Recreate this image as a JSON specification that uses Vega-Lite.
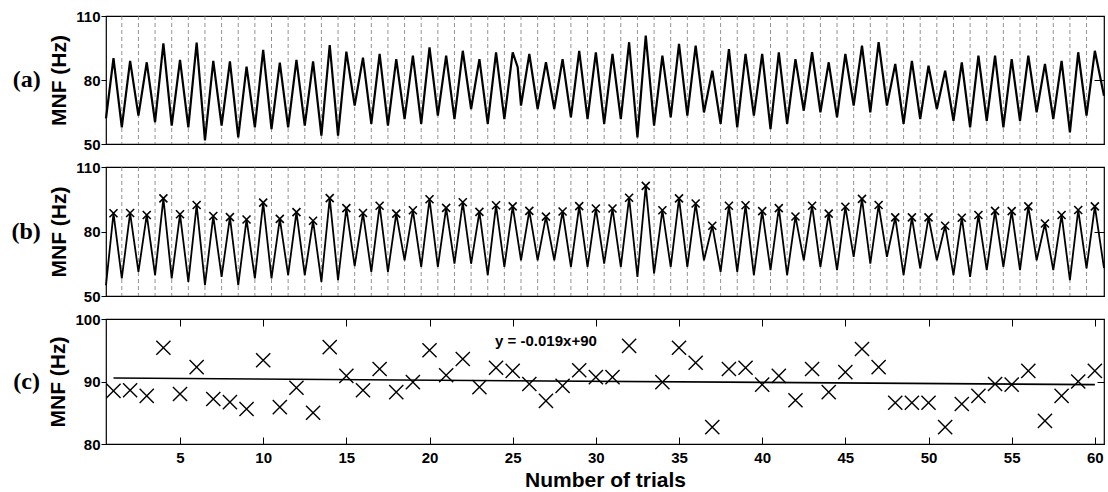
{
  "$schema": "https://vega.github.io/schema/vega-lite/v6.json",
  "background": "white",
  "padding": {"left": 10, "top": 8, "right": 6, "bottom": 4},
  "spacing": 6,
  "config": {
    "view": {"stroke": "#000", "strokeWidth": 1.2},
    "axis": {
      "labelFont": "Liberation Sans", "labelFontSize": 15, "labelFontWeight": "bold", "labelColor": "#000",
      "titleFont": "Liberation Sans", "titleFontSize": 21, "titleFontWeight": "bold", "titleColor": "#000",
      "grid": false, "domain": false, "tickColor": "#000", "tickSize": 5, "labelPadding": 1, "titlePadding": 6
    },
    "title": {"font": "Liberation Serif", "fontSize": 24, "fontWeight": "bold", "color": "#000"}
  },
  "datasets": {
    "g": [{"t":1.5},{"t":2.5},{"t":3.5},{"t":4.5},{"t":5.5},{"t":6.5},{"t":7.5},{"t":8.5},{"t":9.5},{"t":10.5},{"t":11.5},{"t":12.5},{"t":13.5},{"t":14.5},{"t":15.5},{"t":16.5},{"t":17.5},{"t":18.5},{"t":19.5},{"t":20.5},{"t":21.5},{"t":22.5},{"t":23.5},{"t":24.5},{"t":25.5},{"t":26.5},{"t":27.5},{"t":28.5},{"t":29.5},{"t":30.5},{"t":31.5},{"t":32.5},{"t":33.5},{"t":34.5},{"t":35.5},{"t":36.5},{"t":37.5},{"t":38.5},{"t":39.5},{"t":40.5},{"t":41.5},{"t":42.5},{"t":43.5},{"t":44.5},{"t":45.5},{"t":46.5},{"t":47.5},{"t":48.5},{"t":49.5},{"t":50.5},{"t":51.5},{"t":52.5},{"t":53.5},{"t":54.5},{"t":55.5},{"t":56.5},{"t":57.5},{"t":58.5},{"t":59.5}],
    "a": [{"t":0.55,"v":62},{"t":1,"v":90.2},{"t":1.5,"v":57.8},{"t":2,"v":89.0},{"t":2.5,"v":63.3},{"t":3,"v":88.3},{"t":3.5,"v":60.2},{"t":4,"v":97.2},{"t":4.5,"v":58.6},{"t":5,"v":89.4},{"t":5.5,"v":57.8},{"t":6,"v":97.5},{"t":6.5,"v":51.7},{"t":7,"v":89.0},{"t":7.5,"v":58.6},{"t":8,"v":88.7},{"t":8.5,"v":53.1},{"t":9,"v":86.3},{"t":9.5,"v":57.8},{"t":10,"v":94.1},{"t":10.5,"v":57.0},{"t":11,"v":88.1},{"t":11.5,"v":57.8},{"t":12,"v":89.4},{"t":12.5,"v":58.6},{"t":13,"v":88.7},{"t":13.5,"v":53.9},{"t":14,"v":96.4},{"t":14.5,"v":53.9},{"t":15,"v":93.3},{"t":15.5,"v":68.0},{"t":16,"v":90.5},{"t":16.5,"v":59.4},{"t":17,"v":92.2},{"t":17.5,"v":58.6},{"t":18,"v":89.8},{"t":18.5,"v":61.7},{"t":19,"v":91.4},{"t":19.5,"v":59.4},{"t":20,"v":95.3},{"t":20.5,"v":63.3},{"t":21,"v":91.4},{"t":21.5,"v":61.7},{"t":22,"v":93.7},{"t":22.5,"v":66.4},{"t":23,"v":89.8},{"t":23.5,"v":59.4},{"t":24,"v":93.0},{"t":24.5,"v":61.7},{"t":25,"v":93.0},{"t":25.3,"v":86.0},{"t":25.5,"v":68.0},{"t":26,"v":92.2},{"t":26.5,"v":66.4},{"t":27,"v":88.3},{"t":27.5,"v":66.4},{"t":28,"v":89.8},{"t":28.5,"v":62.5},{"t":29,"v":93.7},{"t":29.5,"v":61.7},{"t":30,"v":93.0},{"t":30.5,"v":59.4},{"t":31,"v":92.2},{"t":31.5,"v":61.7},{"t":32,"v":97.7},{"t":32.5,"v":53.1},{"t":33,"v":100.8},{"t":33.5,"v":58.6},{"t":34,"v":91.4},{"t":34.5,"v":62.5},{"t":35,"v":96.9},{"t":35.5,"v":63.3},{"t":36,"v":96.1},{"t":36.5,"v":64.8},{"t":37,"v":84.4},{"t":37.5,"v":59.4},{"t":38,"v":94.5},{"t":38.5,"v":57.8},{"t":39,"v":92.2},{"t":39.5,"v":63.3},{"t":40,"v":92.2},{"t":40.5,"v":57.0},{"t":41,"v":93.0},{"t":41.5,"v":59.4},{"t":42,"v":89.8},{"t":42.5,"v":65.6},{"t":43,"v":93.0},{"t":43.5,"v":64.8},{"t":44,"v":88.3},{"t":44.5,"v":62.5},{"t":45,"v":92.2},{"t":45.5,"v":68.0},{"t":46,"v":96.1},{"t":46.5,"v":64.8},{"t":47,"v":97.7},{"t":47.5,"v":68.0},{"t":48,"v":87.5},{"t":48.5,"v":59.4},{"t":49,"v":89.0},{"t":49.5,"v":61.7},{"t":50,"v":86.7},{"t":50.5,"v":66.4},{"t":51,"v":84.4},{"t":51.5,"v":60.9},{"t":52,"v":88.3},{"t":52.5,"v":57.8},{"t":53,"v":91.4},{"t":53.5,"v":60.9},{"t":54,"v":91.4},{"t":54.5,"v":57.8},{"t":55,"v":89.8},{"t":55.5,"v":60.9},{"t":56,"v":91.4},{"t":56.5,"v":64.8},{"t":57,"v":87.5},{"t":57.5,"v":61.7},{"t":58,"v":89.0},{"t":58.5,"v":55.5},{"t":59,"v":93.0},{"t":59.5,"v":63.3},{"t":60,"v":93.7},{"t":60.55,"v":72.6}],
    "b": [{"t":0.55,"v":55},{"t":1,"v":88.5},{"t":1.5,"v":58.2},{"t":2,"v":88.6},{"t":2.5,"v":61.2},{"t":3,"v":87.7},{"t":3.5,"v":59.7},{"t":4,"v":95.4},{"t":4.5,"v":58.2},{"t":5,"v":88.0},{"t":5.5,"v":56.6},{"t":6,"v":92.3},{"t":6.5,"v":55.1},{"t":7,"v":87.2},{"t":7.5,"v":58.9},{"t":8,"v":86.7},{"t":8.5,"v":55.1},{"t":9,"v":85.6},{"t":9.5,"v":58.2},{"t":10,"v":93.4},{"t":10.5,"v":58.2},{"t":11,"v":85.9},{"t":11.5,"v":59.7},{"t":12,"v":89.0},{"t":12.5,"v":59.7},{"t":13,"v":85.0},{"t":13.5,"v":56.6},{"t":14,"v":95.5},{"t":14.5,"v":57.4},{"t":15,"v":90.9},{"t":15.5,"v":63.9},{"t":16,"v":88.6},{"t":16.5,"v":61.2},{"t":17,"v":92.0},{"t":17.5,"v":61.2},{"t":18,"v":88.3},{"t":18.5,"v":66.6},{"t":19,"v":89.9},{"t":19.5,"v":63.5},{"t":20,"v":95.0},{"t":20.5,"v":63.5},{"t":21,"v":91.0},{"t":21.5,"v":65.1},{"t":22,"v":93.6},{"t":22.5,"v":65.0},{"t":23,"v":89.1},{"t":23.5,"v":59.7},{"t":24,"v":92.2},{"t":24.5,"v":63.5},{"t":25,"v":91.7},{"t":25.5,"v":66.6},{"t":26,"v":89.6},{"t":26.5,"v":66.6},{"t":27,"v":86.9},{"t":27.5,"v":66.6},{"t":28,"v":89.3},{"t":28.5,"v":63.5},{"t":29,"v":91.8},{"t":29.5,"v":63.5},{"t":30,"v":90.7},{"t":30.5,"v":65.1},{"t":31,"v":90.7},{"t":31.5,"v":63.5},{"t":32,"v":95.7},{"t":32.5,"v":58.9},{"t":33,"v":101.2},{"t":33.5,"v":60.5},{"t":34,"v":89.9},{"t":34.5,"v":63.5},{"t":35,"v":95.4},{"t":35.5,"v":63.5},{"t":36,"v":93.0},{"t":36.5,"v":66.6},{"t":37,"v":82.7},{"t":37.5,"v":61.2},{"t":38,"v":92.0},{"t":38.5,"v":61.2},{"t":39,"v":92.2},{"t":39.5,"v":59.7},{"t":40,"v":89.5},{"t":40.5,"v":62.0},{"t":41,"v":90.9},{"t":41.5,"v":59.7},{"t":42,"v":87.0},{"t":42.5,"v":66.6},{"t":43,"v":92.0},{"t":43.5,"v":63.5},{"t":44,"v":88.3},{"t":44.5,"v":62.0},{"t":45,"v":91.5},{"t":45.5,"v":68.2},{"t":46,"v":95.2},{"t":46.5,"v":65.1},{"t":47,"v":92.3},{"t":47.5,"v":68.2},{"t":48,"v":86.6},{"t":48.5,"v":59.7},{"t":49,"v":86.6},{"t":49.5,"v":62.8},{"t":50,"v":86.6},{"t":50.5,"v":66.6},{"t":51,"v":82.7},{"t":51.5,"v":59.7},{"t":52,"v":86.4},{"t":52.5,"v":58.9},{"t":53,"v":87.7},{"t":53.5,"v":62.0},{"t":54,"v":89.6},{"t":54.5,"v":63.5},{"t":55,"v":89.5},{"t":55.5,"v":62.0},{"t":56,"v":91.7},{"t":56.5,"v":66.6},{"t":57,"v":83.7},{"t":57.5,"v":62.0},{"t":58,"v":87.7},{"t":58.5,"v":57.4},{"t":59,"v":90.0},{"t":59.5,"v":62.8},{"t":60,"v":91.7},{"t":60.55,"v":63.0}],
    "p": [{"n":1,"m":88.5},{"n":2,"m":88.6},{"n":3,"m":87.7},{"n":4,"m":95.4},{"n":5,"m":88.0},{"n":6,"m":92.3},{"n":7,"m":87.2},{"n":8,"m":86.7},{"n":9,"m":85.6},{"n":10,"m":93.4},{"n":11,"m":85.9},{"n":12,"m":89.0},{"n":13,"m":85.0},{"n":14,"m":95.5},{"n":15,"m":90.9},{"n":16,"m":88.6},{"n":17,"m":92.0},{"n":18,"m":88.3},{"n":19,"m":89.9},{"n":20,"m":95.0},{"n":21,"m":91.0},{"n":22,"m":93.6},{"n":23,"m":89.1},{"n":24,"m":92.2},{"n":25,"m":91.7},{"n":26,"m":89.6},{"n":27,"m":86.9},{"n":28,"m":89.3},{"n":29,"m":91.8},{"n":30,"m":90.7},{"n":31,"m":90.7},{"n":32,"m":95.7},{"n":33,"m":101.2},{"n":34,"m":89.9},{"n":35,"m":95.4},{"n":36,"m":93.0},{"n":37,"m":82.7},{"n":38,"m":92.0},{"n":39,"m":92.2},{"n":40,"m":89.5},{"n":41,"m":90.9},{"n":42,"m":87.0},{"n":43,"m":92.0},{"n":44,"m":88.3},{"n":45,"m":91.5},{"n":46,"m":95.2},{"n":47,"m":92.3},{"n":48,"m":86.6},{"n":49,"m":86.6},{"n":50,"m":86.6},{"n":51,"m":82.7},{"n":52,"m":86.4},{"n":53,"m":87.7},{"n":54,"m":89.6},{"n":55,"m":89.5},{"n":56,"m":91.7},{"n":57,"m":83.7},{"n":58,"m":87.7},{"n":59,"m":90.0},{"n":60,"m":91.7}],
    "r": [{"n":1,"m":90.55},{"n":60,"m":89.5}],
    "eq": [{"n":27,"m":96.5,"label":"y = -0.019x+90"}]
  },
  "vconcat": [
    {
      "width": 998, "height": 128,
      "title": {"text": "(a)", "orient": "left", "angle": 0, "anchor": "middle", "align": "left", "baseline": "middle", "offset": 8},
      "resolve": {"axis": {"x": "independent", "y": "independent"}},
      "layer": [
        {"data": {"name": "g"}, "mark": {"type": "rule", "strokeDash": [4, 3], "color": "#777", "strokeWidth": 0.8},
         "encoding": {"x": {"field": "t", "type": "quantitative", "scale": {"domain": [0.55, 60.55], "nice": false, "zero": false}, "axis": null}}},
        {"data": {"name": "a"}, "mark": {"type": "line", "color": "#000", "strokeWidth": 2.2},
         "encoding": {
           "x": {"field": "t", "type": "quantitative", "scale": {"domain": [0.55, 60.55], "nice": false, "zero": false}, "axis": null},
           "y": {"field": "v", "type": "quantitative", "scale": {"domain": [50, 110], "nice": false, "zero": false}, "axis": {"values": [50, 80, 110], "title": "MNF (Hz)"}}}},
        {"data": {"name": "a"}, "mark": {"type": "line", "strokeOpacity": 0},
         "encoding": {
           "x": {"field": "t", "type": "quantitative", "axis": null},
           "y": {"field": "v", "type": "quantitative", "axis": {"orient": "right", "values": [50, 80, 110], "labels": false, "title": null, "tickSize": -10}}}}
      ]
    },
    {
      "width": 998, "height": 129,
      "title": {"text": "(b)", "orient": "left", "angle": 0, "anchor": "middle", "align": "left", "baseline": "middle", "offset": 8},
      "resolve": {"axis": {"x": "independent", "y": "independent"}},
      "layer": [
        {"data": {"name": "g"}, "mark": {"type": "rule", "strokeDash": [4, 3], "color": "#777", "strokeWidth": 0.8},
         "encoding": {"x": {"field": "t", "type": "quantitative", "scale": {"domain": [0.55, 60.55], "nice": false, "zero": false}, "axis": null}}},
        {"data": {"name": "b"}, "mark": {"type": "line", "color": "#000", "strokeWidth": 1.8},
         "encoding": {
           "x": {"field": "t", "type": "quantitative", "scale": {"domain": [0.55, 60.55], "nice": false, "zero": false}, "axis": null},
           "y": {"field": "v", "type": "quantitative", "scale": {"domain": [50, 110], "nice": false, "zero": false}, "axis": {"values": [50, 80, 110], "title": "MNF (Hz)"}}}},
        {"data": {"name": "p"}, "mark": {"type": "point", "shape": "M-1,-1L1,1M1,-1L-1,1", "filled": false, "color": "#000", "strokeWidth": 1.6, "size": 64, "opacity": 1},
         "encoding": {
           "x": {"field": "n", "type": "quantitative", "axis": null},
           "y": {"field": "m", "type": "quantitative", "axis": {"orient": "right", "values": [50, 80, 110], "labels": false, "title": null, "tickSize": -10}}}}
      ]
    },
    {
      "width": 998, "height": 125,
      "title": {"text": "(c)", "orient": "left", "angle": 0, "anchor": "middle", "align": "left", "baseline": "middle", "offset": 8},
      "resolve": {"axis": {"x": "independent", "y": "independent"}},
      "layer": [
        {"data": {"name": "p"}, "transform": [{"filter": "datum.m <= 100"}],
         "mark": {"type": "point", "shape": "M-1,-1L1,1M1,-1L-1,1", "filled": false, "color": "#000", "strokeWidth": 1.4, "size": 200, "opacity": 1},
         "encoding": {
           "x": {"field": "n", "type": "quantitative", "scale": {"domain": [0.55, 60.55], "nice": false, "zero": false},
                 "axis": {"values": [5, 10, 15, 20, 25, 30, 35, 40, 45, 50, 55, 60], "title": "Number of trials", "tickSize": -7, "labelPadding": 13, "titlePadding": 4}},
           "y": {"field": "m", "type": "quantitative", "scale": {"domain": [80, 100], "nice": false, "zero": false}, "axis": {"values": [80, 90, 100], "title": "MNF (Hz)"}}}},
        {"data": {"name": "r"}, "mark": {"type": "line", "color": "#000", "strokeWidth": 1.6},
         "encoding": {
           "x": {"field": "n", "type": "quantitative", "axis": {"orient": "top", "values": [5, 10, 15, 20, 25, 30, 35, 40, 45, 50, 55, 60], "labels": false, "title": null, "tickSize": -7}},
           "y": {"field": "m", "type": "quantitative", "axis": {"orient": "right", "values": [80, 90, 100], "labels": false, "title": null, "tickSize": -7}}}},
        {"data": {"name": "eq"}, "mark": {"type": "text", "font": "Liberation Sans", "fontSize": 15, "fontWeight": "bold", "color": "#000"},
         "encoding": {
           "x": {"field": "n", "type": "quantitative", "axis": null},
           "y": {"field": "m", "type": "quantitative", "axis": null},
           "text": {"field": "label"}}}
      ]
    }
  ]
}
